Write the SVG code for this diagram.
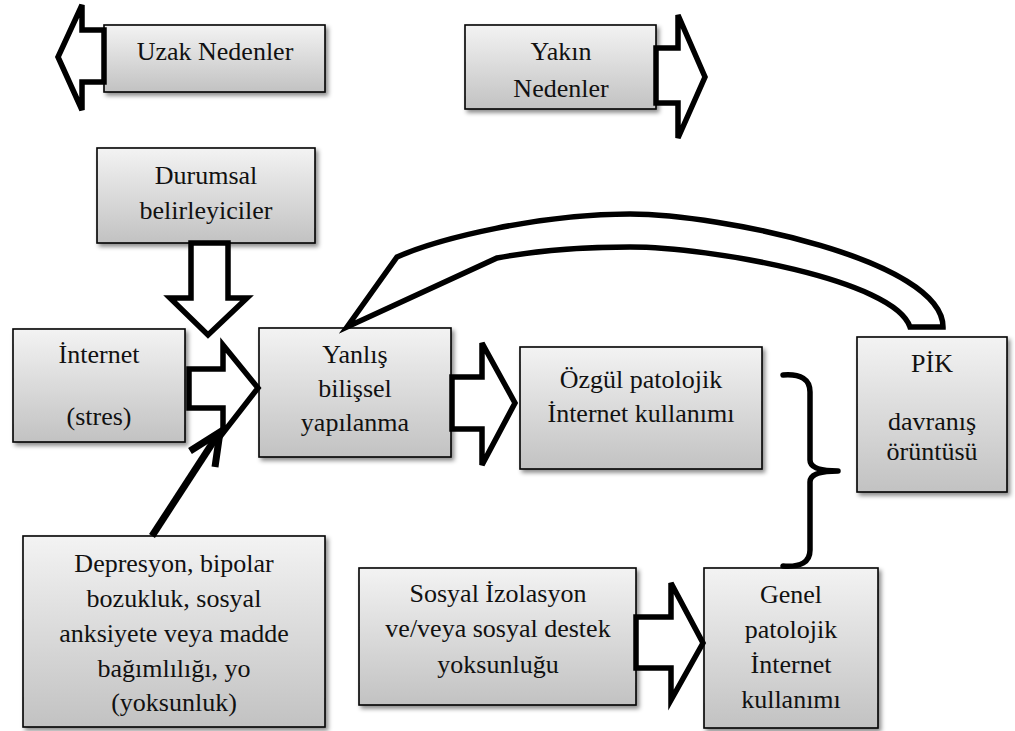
<svg xmlns="http://www.w3.org/2000/svg" width="1015" height="731" viewBox="0 0 1015 731">
<defs>
<linearGradient id="g" x1="0" y1="0" x2="0" y2="1">
<stop offset="0" stop-color="#f3f3f3"/>
<stop offset="1" stop-color="#c2c2c2"/>
</linearGradient>
<filter id="sh" x="-10%" y="-10%" width="125%" height="125%">
<feDropShadow dx="2.5" dy="3" stdDeviation="2" flood-color="#000" flood-opacity="0.45"/>
</filter>
<style>
.box{fill:url(#g);stroke:#000;stroke-width:1.6;filter:url(#sh)}
.t{font-size:26px;fill:#111;text-anchor:middle}
.blk{fill:#fff;stroke:#000;stroke-width:5.5;stroke-linejoin:miter}
.ln{fill:none;stroke:#000;stroke-width:5.5;stroke-linecap:round;stroke-linejoin:round}
</style>
</defs>
<rect width="1015" height="731" fill="#fff"/>

<g font-family="Liberation Serif, serif">
<g id="uzak">
<rect class="box" x="104" y="25" width="221" height="67"/>
<text class="t" x="215" y="60">Uzak Nedenler</text>
</g>
<g id="yakin">
<rect class="box" x="465" y="25" width="191" height="84"/>
<text class="t" x="561" y="60">Yakın</text>
<text class="t" x="561" y="97">Nedenler</text>
</g>
<g id="durumsal">
<rect class="box" x="97" y="148" width="218" height="95"/>
<text class="t" x="206" y="184">Durumsal</text>
<text class="t" x="206" y="219">belirleyiciler</text>
</g>
<g id="internet">
<rect class="box" x="13" y="329" width="172" height="113"/>
<text class="t" x="99" y="363">İnternet</text>
<text class="t" x="99" y="425">(stres)</text>
</g>
<g id="yanlis">
<rect class="box" x="259" y="328" width="192" height="129"/>
<text class="t" x="355" y="363">Yanlış</text>
<text class="t" x="355" y="397">bilişsel</text>
<text class="t" x="355" y="431">yapılanma</text>
</g>
<g id="ozgul">
<rect class="box" x="520" y="347" width="242" height="122"/>
<text class="t" x="641" y="388">Özgül patolojik</text>
<text class="t" x="641" y="422">İnternet kullanımı</text>
</g>
<g id="pik">
<rect class="box" x="857" y="337" width="150" height="155"/>
<text class="t" x="932" y="372">PİK</text>
<text class="t" x="932" y="430">davranış</text>
<text class="t" x="932" y="460">örüntüsü</text>
</g>
<g id="depresyon">
<rect class="box" x="23" y="536" width="302" height="191"/>
<text class="t" x="174" y="572">Depresyon, bipolar</text>
<text class="t" x="174" y="607">bozukluk, sosyal</text>
<text class="t" x="174" y="642">anksiyete veya madde</text>
<text class="t" x="174" y="677">bağımlılığı, yo</text>
<text class="t" x="174" y="711">(yoksunluk)</text>
</g>
<g id="sosyal">
<rect class="box" x="359" y="568" width="277" height="137"/>
<text class="t" x="498" y="602">Sosyal İzolasyon</text>
<text class="t" x="498" y="637">ve/veya sosyal destek</text>
<text class="t" x="498" y="673">yoksunluğu</text>
</g>
<g id="genel">
<rect class="box" x="704" y="568" width="174" height="160"/>
<text class="t" x="791" y="603">Genel</text>
<text class="t" x="791" y="638">patolojik</text>
<text class="t" x="791" y="673">İnternet</text>
<text class="t" x="791" y="708">kullanımı</text>
</g>
</g>

<g id="connectors">
<polygon class="blk" points="104,30 82,30 82,5 58,57 82,110 82,82 104,82"/>
<polygon class="blk" points="656,48 678,48 678,15 705,77 678,138 678,103 656,103"/>
<polygon class="blk" points="191,243 191,298 170,298 208,335 247,298 228,298 228,243"/>
<polygon class="blk" points="189,369 223,369 223,345 258,388 223,433 223,408 189,408"/>
<polygon class="blk" points="452,377 482,377 482,343 515,403 482,465 482,429 452,429"/>
<polygon class="blk" points="636,617 671,617 671,583 703,643 671,700 671,668 636,668"/>
<path class="blk" d="M347,327 L397,257 C440,238 540,214 630,214 C720,214 943,260 943,327 L910,327 C895,280 710,247 630,247 C590,247 540,250 497,258 Z"/>
<path class="ln" d="M783,375 Q810,373 810,392 L810,460 Q810,471 838,471 Q810,471 810,482 L810,550 Q810,568 783,566"/>
<line x1="152" y1="536" x2="219" y2="433" stroke="#000" stroke-width="7"/>
<polyline points="190,451 220,432 215,467" fill="none" stroke="#000" stroke-width="7" stroke-linejoin="miter" stroke-miterlimit="10"/>
</g>
</svg>
